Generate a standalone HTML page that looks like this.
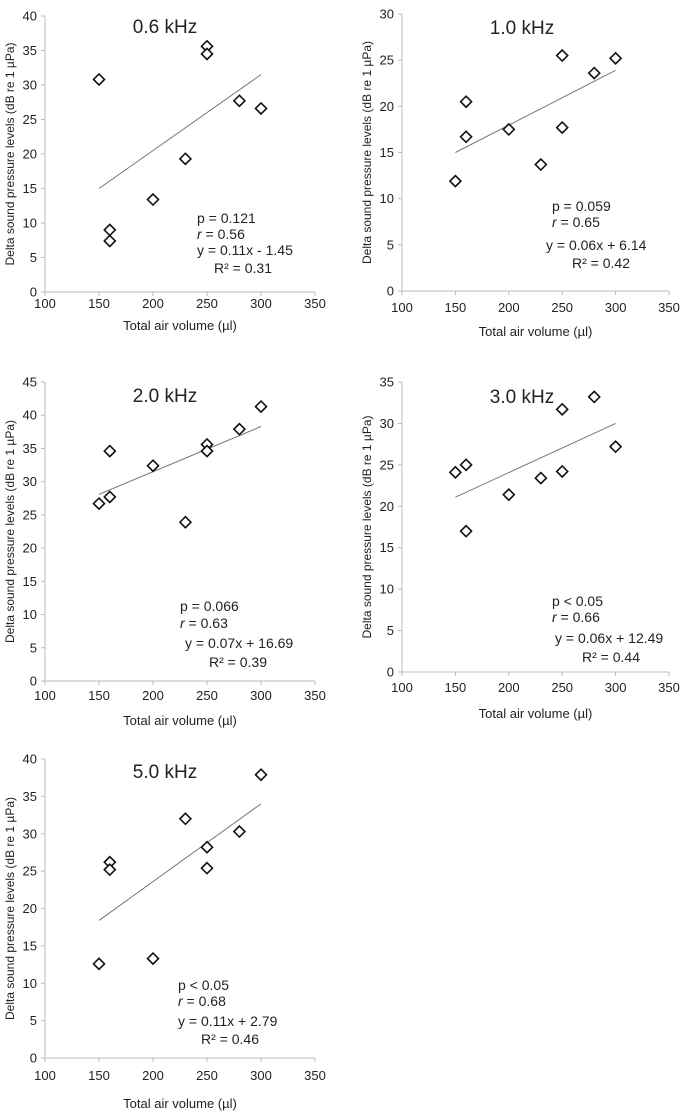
<!DOCTYPE html>
<html><head><meta charset="utf-8"><style>
body{margin:0;background:#fff;width:685px;height:1119px;overflow:hidden}
svg{position:absolute;left:0;top:0}
text{font-family:"Liberation Sans",sans-serif;fill:#222}
</style></head><body>
<svg id="chart" width="685" height="1119" xmlns="http://www.w3.org/2000/svg"></svg>
<script>
const xVals = [150,160,160,200,230,250,250,280,300];
const y06 = [30.8,9,7.4,13.4,19.3,35.6,34.5,27.7,26.6];
const y10 = [11.9,20.5,16.7,17.5,13.7,25.5,17.7,23.6,25.2];
const y20 = [26.7,34.6,27.7,32.4,23.9,35.6,34.6,37.9,41.3];
const y30 = [24.1,25,17,21.4,23.4,31.7,24.2,33.2,27.2];
const y50 = [12.6,26.2,25.2,13.3,32,28.2,25.4,30.3,37.9];
const titles = ["0.6 kHz","1.0 kHz","2.0 kHz","3.0 kHz","5.0 kHz"];
const yMaxes = [40,30,45,35,40];
const trendX = [150,300];
const trendStart = [15,15,28.1,21.1,18.4];
const trendEnd = [31.5,23.9,38.3,30,34];
const annP = ["p = 0.121","p = 0.059","p = 0.066","p < 0.05","p < 0.05"];
const annR = ["= 0.56","= 0.65","= 0.63","= 0.66","= 0.68"];
const annEq = ["y = 0.11x - 1.45","y = 0.06x + 6.14","y = 0.07x + 16.69","y = 0.06x + 12.49","y = 0.11x + 2.79"];
const annR2 = ["R² = 0.31","R² = 0.42","R² = 0.39","R² = 0.44","R² = 0.46"];
const xTicks = [100,150,200,250,300,350];
const series = [y06,y10,y20,y30,y50];
const L = [
 {x0:45,x1:315,yT:16,yB:292,title:[165,27],ann:[197,218,197,234,197,250,214,268],xt:308,xtitle:330},
 {x0:402,x1:669,yT:14,yB:291,title:[522,28],ann:[552,206,552,222,546,245,572,263],xt:312,xtitle:336},
 {x0:45,x1:315,yT:382,yB:681,title:[165,396],ann:[180,606,180,623,185,643,209,662],xt:700,xtitle:725},
 {x0:402,x1:669,yT:382,yB:672,title:[522,397],ann:[552,601,552,617,555,638,582,657],xt:692,xtitle:718},
 {x0:45,x1:315,yT:759,yB:1058,title:[165,772],ann:[178,985,178,1001,178,1021,201,1039],xt:1080,xtitle:1108}
];
const svg=document.getElementById('chart');
const NS='http://www.w3.org/2000/svg';
function mk(tag,attrs,parent,txt){const e=document.createElementNS(NS,tag);for(const k in attrs)e.setAttribute(k,attrs[k]);if(txt!==undefined)e.textContent=txt;parent.appendChild(e);return e;}
series.forEach((ys,i)=>{
 const l=L[i];
 const g=mk('g',{},svg);
 
 
 const sx=v=>l.x0+(v-100)/250*(l.x1-l.x0);
 const sy=v=>l.yB-v/yMaxes[i]*(l.yB-l.yT);
 const ya=mk('line',{x1:l.x0,y1:l.yT,x2:l.x0,y2:l.yB,stroke:'#bbb','stroke-width':1},g);
 
 
 const xa=mk('line',{x1:l.x0,y1:l.yB,x2:l.x1,y2:l.yB,stroke:'#bbb','stroke-width':1},g);
 
 
 for(let v=0;v<=yMaxes[i];v+=5){
  mk('line',{x1:l.x0-4,y1:sy(v),x2:l.x0,y2:sy(v),stroke:'#bbb'},g);
  const t=mk('text',{x:l.x0-8,y:sy(v)+4.5,'text-anchor':'end','font-size':13},g,String(v));
  
  
 }
 xTicks.forEach(v=>{
  mk('line',{x1:sx(v),y1:l.yB,x2:sx(v),y2:l.yB+4,stroke:'#bbb'},g);
  const t=mk('text',{x:sx(v),y:l.xt,'text-anchor':'middle','font-size':13},g,String(v));
  
  
 });
 const xt=mk('text',{x:(l.x0+l.x1)/2,y:l.xtitle,'text-anchor':'middle','font-size':13},g,'Total air volume (µl)');
 
 
 const cy=(l.yT+l.yB)/2;
 const yt=mk('text',{x:0,y:0,'text-anchor':'middle','font-size':12,transform:`translate(${l.x0-31},${cy}) rotate(-90)`},g,'Delta sound pressure levels (dB re 1 µPa)');
 
 
 const tt=mk('text',{x:l.title[0],y:l.title[1]+6,'text-anchor':'middle','font-size':19},g,titles[i]);
 
 
 const tl=mk('line',{x1:sx(trendX[0]),y1:sy(trendStart[i]),x2:sx(trendX[1]),y2:sy(trendEnd[i]),stroke:'#777','stroke-width':1},g);
 
 
 ys.forEach((v,j)=>{
  const px=sx(xVals[j]),py=sy(v),s=5.5;
  const p=mk('path',{d:`M${px},${py-s}L${px+s},${py}L${px},${py+s}L${px-s},${py}Z`,fill:'#fff',stroke:'#111','stroke-width':1.6},g);
  
  
 });
 const a=l.ann;
 const ap=mk('text',{x:a[0],y:a[1]+5,'font-size':14},g,annP[i]);
 
 
 const ar=mk('text',{x:a[2],y:a[3]+5,'font-size':14},g);
 
 
 mk('tspan',{'font-style':'italic'},ar,'r');
 mk('tspan',{},ar,' '+annR[i]);
 const ae=mk('text',{x:a[4],y:a[5]+5,'font-size':14},g,annEq[i]);
 
 
 const a2=mk('text',{x:a[6],y:a[7]+5,'font-size':14},g,annR2[i]);
 
 
});
</script>
</body></html>
